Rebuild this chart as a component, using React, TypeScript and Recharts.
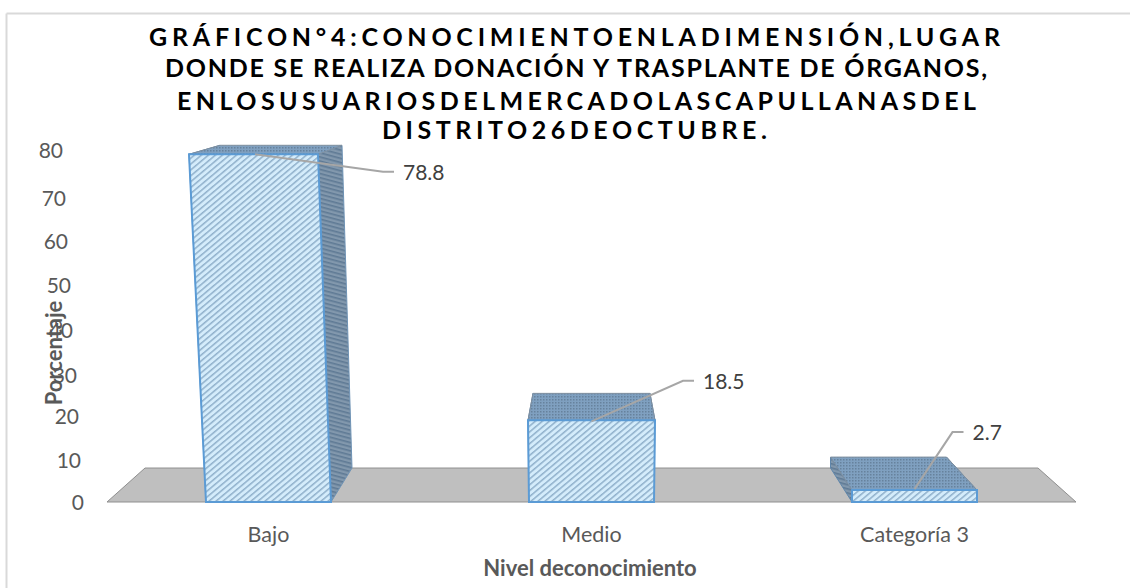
import React from "react";
import { BarChart, Bar, XAxis, YAxis, ReferenceArea, LabelList } from "recharts";

const categories = ["Bajo", "Medio", "Categoría 3"];
const porcentajes = [78.8, 18.5, 2.7];
const yTicks = [0, 10, 20, 30, 40, 50, 60, 70, 80];
const titleLines = [
  "GRÁFICON°4:CONOCIMIENTOENLADIMENSIÓN,LUGAR",
  "DONDE SE REALIZA DONACIÓN Y TRASPLANTE DE ÓRGANOS,",
  "ENLOSUSUARIOSDELMERCADOLASCAPULLANASDEL",
  "DISTRITO26DEOCTUBRE.",
];
const yTitle = "Porcentaje";
const xTitle = "Nivel deconocimiento";

const data = categories.map((name, i) => ({ name, value: porcentajes[i] }));

// 3D look, per bar, relative to the bar rectangle the library hands over
const FACES = [
  { tl: -17, tr: -13, bl: 14, br: 11, rise: 9, lowL: 26, lowR: 21 },
  { tl: -1, tr: 1, bl: 4, br: -4, rise: 27, lowL: 4, lowR: -4 },
  { tl: 0, tr: 0, bl: -21.5, br: -30.5, rise: 33, lowL: -21.5, lowR: -30.5 },
];
const LEADERS = [
  { sx: -13.5, sy: 0, bx: 114.5, by: 17.5 },
  { sx: 0, sy: 1, bx: 91.5, by: -39.5 },
  { sx: 0, sy: -1, bx: 38, by: -58 },
];
const TICK_SHIFT: Record<number, [number, number]> = {
  0: [84, 0], 10: [81, 2], 20: [79, 2], 30: [77, 5], 40: [73, 4],
  50: [71, 4], 60: [68, 4], 70: [66, 5], 80: [63, 1],
};
const TITLE_BOX = [
  { l: 149, r: 1000, y: 46 },
  { l: 165, r: 987, y: 77 },
  { l: 177, r: 976, y: 110 },
  { l: 382, r: 767, y: 139 },
];

const FONT = "Lato, Carlito, sans-serif";
const EDGE = "#5b9bd5";

const pts = (p: number[][]) => p.map((a) => a.join(",")).join(" ");

function Bar3D(props: any) {
  const { x, y, width, height, index } = props;
  const f = FACES[index];
  const r = x + width;
  const b = y + height;
  const backY = y - f.rise;
  const lowY = b - 34;
  const tl = [x + f.tl, y];
  const tr = [r + f.tr, y];
  const btl = [x + f.bl, backY];
  const btr = [r + f.br, backY];
  return (
    <g>
      <polygon points={pts([tl, btl, [x + f.lowL, lowY], [x, b]])} fill="url(#sideHatch)" stroke="#5f86ab" strokeWidth={1} />
      <polygon points={pts([tr, btr, [r + f.lowR, lowY], [r, b]])} fill="url(#sideHatch)" stroke="#6f93b5" strokeWidth={1} />
      <polygon points={pts([tl, btl, btr, tr])} fill="url(#topHatch)" stroke="#7f8f9f" strokeWidth={1} />
      <polygon points={pts([tl, tr, [r, b], [x, b]])} fill="url(#frontHatch)" stroke={EDGE} strokeWidth={2} />
    </g>
  );
}

function Floor(props: any) {
  const { x, y, width, height } = props;
  const inset = 38;
  return (
    <polygon
      points={pts([[x, y + height], [x + inset, y], [x + width - inset, y], [x + width, y + height]])}
      fill="#bfbfbf"
      stroke="#8f8f8f"
      strokeWidth={1}
    />
  );
}

function YTick(props: any) {
  const { y, payload } = props;
  const [right, dy] = TICK_SHIFT[payload.value];
  return (
    <text x={right} y={y + dy + 8} textAnchor="end" fontFamily={FONT} fontSize={21} fill="#595959">
      {payload.value}
    </text>
  );
}

function Leader(props: any) {
  const { x, y, width, value, index } = props;
  const l = LEADERS[index];
  const cx = x + width / 2;
  const bx = cx + l.bx;
  const by = y + l.by;
  return (
    <g>
      <polyline
        points={pts([[cx + l.sx, y + l.sy], [bx, by], [bx + 11, by]])}
        fill="none"
        stroke="#a6a6a6"
        strokeWidth={2}
      />
      <text x={bx + 20} y={by + 8} fontFamily={FONT} fontSize={21} fill="#404040">
        {value}
      </text>
    </g>
  );
}

export default function App() {
  return (
    <div style={{ position: "absolute", left: 0, top: 0, width: 1130, height: 588, background: "#fff" }}>
      <BarChart
        width={1130}
        height={588}
        data={data}
        margin={{ top: 149, right: 54, bottom: 0, left: 0 }}
      >
        <defs>
          <pattern id="frontHatch" width="4.5" height="4.5" patternUnits="userSpaceOnUse" patternTransform="rotate(50)">
            <rect width="4.5" height="4.5" fill="#d4ecfb" />
            <rect x="0" width="1.5" height="4.5" fill="#8fb0cb" />
          </pattern>
          <pattern id="sideHatch" width="4" height="4" patternUnits="userSpaceOnUse" patternTransform="rotate(15)">
            <rect width="4" height="4" fill="#8298ad" />
            <rect y="0" width="4" height="1.6" fill="#5f7a95" />
          </pattern>
          <pattern id="topHatch" width="3" height="3" patternUnits="userSpaceOnUse">
            <rect width="3" height="3" fill="#7fa0c0" />
            <rect width="1.5" height="1.5" fill="#66829d" />
          </pattern>
        </defs>
        <line x1={6.5} y1={13.5} x2={1130} y2={13.5} stroke="#d9d9d9" strokeWidth={2} />
        <line x1={6.5} y1={13.5} x2={6.5} y2={588} stroke="#d9d9d9" strokeWidth={2} />
        {titleLines.map((t, i) => (
          <text
            key={t}
            x={TITLE_BOX[i].l}
            y={TITLE_BOX[i].y}
            textLength={TITLE_BOX[i].r - TITLE_BOX[i].l}
            lengthAdjust="spacing"
            fontFamily={FONT}
            fontWeight={700}
            fontSize={25}
            fill="#000"
          >
            {t}
          </text>
        ))}
        <XAxis
          dataKey="name"
          height={86}
          axisLine={false}
          tickLine={false}
          tick={{ fontFamily: FONT, fontSize: 21.5, fill: "#595959" }}
          tickMargin={19}
        />
        <YAxis
          width={107}
          domain={[0, 80]}
          ticks={yTicks}
          axisLine={false}
          tickLine={false}
          tick={<YTick />}
          interval={0}
        />
        <ReferenceArea y1={0} y2={7.7} shape={<Floor />} fillOpacity={1} />
        <Bar dataKey="value" barSize={125} isAnimationActive={false} shape={<Bar3D />}>
          <LabelList dataKey="value" content={<Leader />} />
        </Bar>
        <text
          transform="translate(62,353) rotate(-90)"
          textAnchor="middle"
          fontFamily={FONT}
          fontWeight={700}
          fontSize={22}
          fill="#595959"
        >
          {yTitle}
        </text>
        <text x={590} y={576} textAnchor="middle" fontFamily={FONT} fontWeight={700} fontSize={22} fill="#595959">
          {xTitle}
        </text>
      </BarChart>
    </div>
  );
}
